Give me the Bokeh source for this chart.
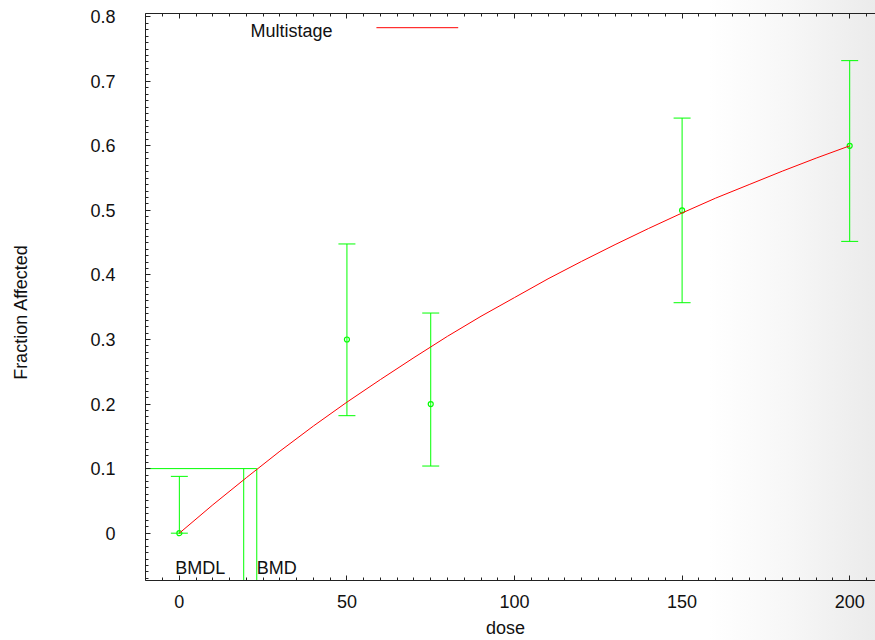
from bokeh.plotting import figure
from bokeh.models import (LinearAxis, SingleIntervalTicker, Whisker, TeeHead,
                          ColumnDataSource, Label, Range1d, CustomJSTickFormatter)
from bokeh.embed import file_html
from bokeh.resources import INLINE

# ---- data ----
dose = [0, 50, 75, 150, 200]
frac = [0.0, 0.3, 0.2, 0.5, 0.6]
lower = [0.0, 0.182, 0.104, 0.357, 0.452]
upper = [0.088, 0.448, 0.341, 0.643, 0.732]

curve_dose = [0, 10, 20, 30, 40, 50, 60, 70, 80, 90, 100, 110, 120, 130, 140,
              150, 160, 170, 180, 190, 200]
curve_frac = [0.0, 0.044, 0.086, 0.127, 0.166, 0.203, 0.238, 0.272, 0.305,
              0.336, 0.365, 0.394, 0.421, 0.447, 0.472, 0.496, 0.519, 0.540,
              0.561, 0.581, 0.600]

bmd = 23.1
bmdl = 19.2
bmr = 0.1

x_ticks_interval = 50
y_ticks_interval = 0.1

FONT = "Liberation Sans"
GREEN = "#00ff00"
RED = "#ff0000"
TXT = "#111111"
NBSP = "\u00a0"

p = figure(width=875, height=640, output_backend="svg", toolbar_location=None,
           x_range=Range1d(-10.1, 207.7), y_range=Range1d(-0.0733, 0.805),
           min_border_left=145, min_border_right=0, min_border_top=13,
           min_border_bottom=60, x_axis_location=None, y_axis_location=None)
p.grid.visible = False
p.outline_line_color = None
p.background_fill_color = None
p.border_fill_color = None
p.styles = {"background": "linear-gradient(to right, #ffffff 0%, #ffffff 81%, "
                          "#f7f7f7 90%, #ebebeb 100%)"}

def style_axis(ax):
    ax.axis_line_color = "#222222"
    ax.major_tick_line_color = "#222222"
    ax.minor_tick_line_color = "#222222"
    ax.major_tick_in = 5
    ax.major_tick_out = 0
    ax.minor_tick_in = 3
    ax.minor_tick_out = 0
    ax.major_label_text_font = FONT
    ax.major_label_text_font_size = "18px"
    ax.major_label_text_color = TXT
    ax.axis_label_text_font = FONT
    ax.axis_label_text_font_size = "18px"
    ax.axis_label_text_font_style = "normal"
    ax.axis_label_text_color = TXT

xt = SingleIntervalTicker(interval=x_ticks_interval, num_minor_ticks=10)
yt = SingleIntervalTicker(interval=y_ticks_interval, num_minor_ticks=10)

xb = LinearAxis(ticker=xt, axis_label="dose" + NBSP * 2)
style_axis(xb)
xb.major_label_standoff = 14
xb.axis_label_standoff = 7
p.add_layout(xb, "below")

# mirrored top border with ticks, no labels
xa = LinearAxis(ticker=xt, formatter=CustomJSTickFormatter(code="return ''"))
style_axis(xa)
xa.major_label_standoff = 0
p.add_layout(xa, "above")

yl = LinearAxis(ticker=yt, axis_label="Fraction Affected" + NBSP * 6)
style_axis(yl)
yl.major_label_standoff = 30
yl.axis_label_standoff = 56
yl.major_label_overrides = {0: "0"}
p.add_layout(yl, "left")

# BMD lines
p.line(x=[-10.1, bmd], y=[bmr, bmr], line_color=GREEN, line_width=1)
p.segment(x0=[bmdl, bmd], y0=[-0.0733, -0.0733], x1=[bmdl, bmd], y1=[bmr, bmr],
          line_color=GREEN, line_width=1)

# error bars
src = ColumnDataSource(dict(dose=dose, frac=frac, lower=lower, upper=upper))
w = Whisker(source=src, base="dose", upper="upper", lower="lower",
            line_color=GREEN, line_width=1,
            upper_head=TeeHead(size=17, line_color=GREEN, line_width=1),
            lower_head=TeeHead(size=17, line_color=GREEN, line_width=1))
p.add_layout(w)
p.scatter("dose", "frac", source=src, marker="circle", size=5,
          fill_color=None, line_color=GREEN, line_width=1.2)

# fitted curve
p.line(curve_dose, curve_frac, line_color=RED, line_width=1)

# legend
p.add_layout(Label(x=21.2, y=0.7785, text="Multistage", text_font=FONT,
                   text_font_size="18px", text_baseline="middle",
                   text_color=TXT))
p.line(x=[58.8, 83.2], y=[0.783, 0.783], line_color=RED, line_width=1)

# BMD labels
p.add_layout(Label(x=-1.2, y=-0.054, text="BMDL", text_font=FONT,
                   text_font_size="18px", text_baseline="middle",
                   text_color=TXT))
p.add_layout(Label(x=bmd, y=-0.054, text="BMD", text_font=FONT,
                   text_font_size="18px", text_baseline="middle",
                   text_color=TXT))

open("out.html", "w").write(file_html(p, INLINE))
